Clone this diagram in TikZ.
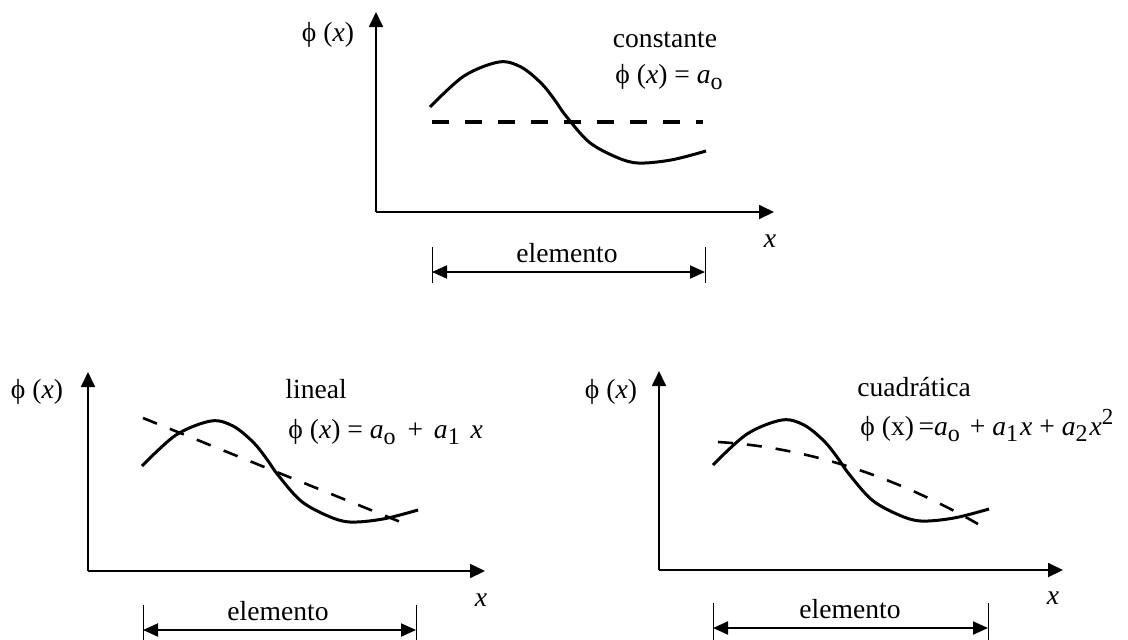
\documentclass[tikz,border=0pt]{standalone}
\usepackage{fontspec}
\setmainfont{Liberation Serif}
\usetikzlibrary{arrows.meta}
\newcommand\lsub[1]{\raisebox{-0.5ex}{\fontsize{12}{12}\selectfont #1}}
\newcommand\lsup[1]{\raisebox{0.85ex}{\fontsize{11.5}{12}\selectfont #1}}
\begin{document}
\begin{tikzpicture}[x=0.5pt,y=-0.5pt,
  axis/.style={line width=0.9pt,-{Triangle[length=7.5pt,width=7pt]}},
  curve/.style={line width=1.5pt,line join=round},
  dashA/.style={line width=2pt,dash pattern=on 8.5pt off 8pt},
  dashB/.style={line width=1.3pt,dash pattern=on 7.5pt off 7pt},
  spanarrow/.style={line width=1pt,{Triangle[length=7.5pt,width=6.5pt]}-{Triangle[length=7.5pt,width=6.5pt]}},
  bar/.style={line width=0.5pt},
  lbl/.style={font=\fontsize{13.8}{16}\selectfont,inner sep=0pt},
]
\useasboundingbox (0,0) rectangle (1128,639);
\def\thecurve{plot[smooth,tension=0.55] coordinates {(54,-105) (88,-136) (123,-150) (145,-145) (165,-129) (178,-113) (190,-96) (213,-70) (240,-55) (262,-49) (295,-52) (330,-61)}}
% ---------- top panel ----------
\begin{scope}[shift={(376,212)}]
  \coordinate (o1) at (0,0);
  \coordinate (ya1) at (0,-200);
  \coordinate (xa1) at (398,0);
  \draw[axis] (o1) -- (ya1);
  \draw[axis] (o1) -- (xa1);
  \draw[curve] \thecurve;
  \coordinate (dA1) at (56,-90);
  \coordinate (dB1) at (327,-90);
  \draw[dashA] (dA1) -- (dB1);
  \coordinate (l1) at (56,60);
  \coordinate (r1) at (329,60);
  \coordinate (l1t) at (56,35);
  \coordinate (l1b) at (56,71);
  \coordinate (r1t) at (329,35);
  \coordinate (r1b) at (329,71);
  \draw[bar] (l1t) -- (l1b);
  \draw[bar] (r1t) -- (r1b);
  \draw[spanarrow] (l1) -- (r1);
\end{scope}
\node[lbl,anchor=base] (e1) at (567,262) {elemento};
\node[lbl] (yl1) at (328,35) {ϕ (\textit{x})};
\node[lbl] (xl1) at (770,241) {\textit{x}};
\node[lbl,anchor=base] (t1) at (665,47) {constante};
\node[lbl,anchor=base west] (f1) at (615,83) {ϕ (\textit{x}) = \textit{a}\lsub{o}};
% ---------- bottom left panel ----------
\begin{scope}[shift={(88,571)}]
  \coordinate (o2) at (0,0);
  \coordinate (ya2) at (0,-199);
  \coordinate (xa2) at (397,0);
  \draw[axis] (o2) -- (ya2);
  \draw[axis] (o2) -- (xa2);
  \draw[curve] \thecurve;
  \coordinate (dA2) at (55,-153);
  \coordinate (dB2) at (315,-48);
  \draw[dashB] (dA2) -- (dB2);
  \coordinate (l2) at (55,59);
  \coordinate (r2) at (328,59);
  \coordinate (l2t) at (55,34);
  \coordinate (l2b) at (55,70);
  \coordinate (r2t) at (328,34);
  \coordinate (r2b) at (328,70);
  \draw[bar] (l2t) -- (l2b);
  \draw[bar] (r2t) -- (r2b);
  \draw[spanarrow] (l2) -- (r2);
\end{scope}
\node[lbl,anchor=base] (e2) at (278,620) {elemento};
\node[lbl] (yl2) at (37,392) {ϕ (\textit{x})};
\node[lbl] (xl2) at (481,600) {\textit{x}};
\node[lbl,anchor=base west] (t2) at (285,398) {lineal};
\node[lbl,anchor=base west] (f2) at (288,438) {ϕ (\textit{x}) = \textit{a}\lsub{o}\hspace{2.5pt} + \hspace{2pt}\textit{a}\lsub{1}\hspace{2pt} \textit{x}};
% ---------- bottom right panel ----------
\begin{scope}[shift={(659,570)}]
  \coordinate (o3) at (0,0);
  \coordinate (ya3) at (0,-199);
  \coordinate (xa3) at (404,0);
  \draw[axis] (o3) -- (ya3);
  \draw[axis] (o3) -- (xa3);
  \draw[curve] \thecurve;
  \coordinate (dA3) at (59,-128);
  \coordinate (dB3) at (319,-46);
  \draw[dashB] (dA3) .. controls (145.7,-122.9) and (232.3,-95.5) .. (dB3);
  \coordinate (l3) at (54,58);
  \coordinate (r3) at (329,58);
  \coordinate (l3t) at (54,33);
  \coordinate (l3b) at (54,70);
  \coordinate (r3t) at (329,33);
  \coordinate (r3b) at (329,70);
  \draw[bar] (l3t) -- (l3b);
  \draw[bar] (r3t) -- (r3b);
  \draw[spanarrow] (l3) -- (r3);
\end{scope}
\node[lbl,anchor=base] (e3) at (850,618) {elemento};
\node[lbl] (yl3) at (611,392) {ϕ (\textit{x})};
\node[lbl] (xl3) at (1053,598) {\textit{x}};
\node[lbl,anchor=base west] (t3) at (857,396) {cuadrática};
\node[lbl,anchor=base west] (f3) at (860,435) {ϕ (x)\,=\textit{a}\lsub{o}\hspace{1.5pt} + \textit{a}\lsub{1}\hspace{1pt}\textit{x} + \textit{a}\lsub{2}\hspace{1pt}\textit{x}\lsup{2}};
\end{tikzpicture}
\end{document}
